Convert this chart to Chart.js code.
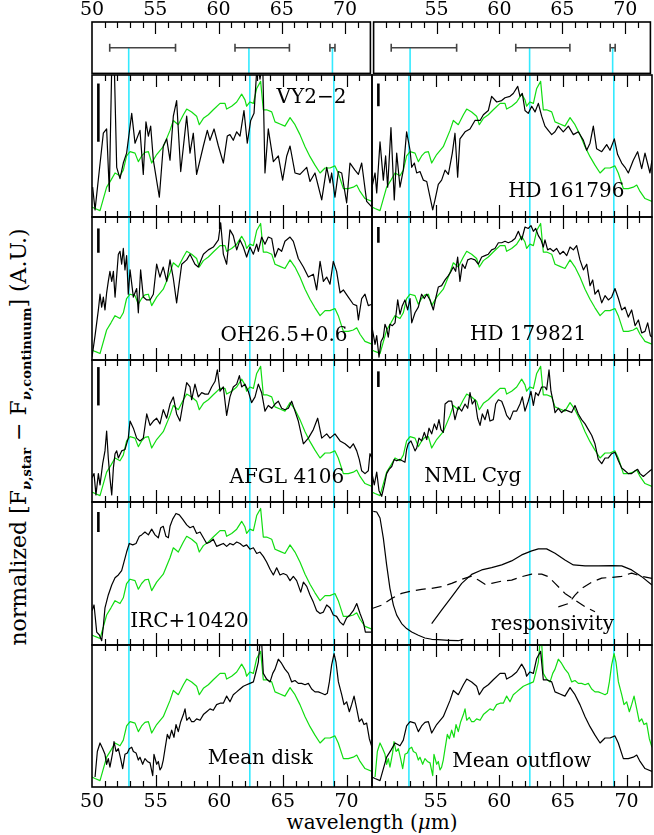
<!DOCTYPE html>
<html>
<head>
<meta charset="utf-8">
<script src="https://cdn.jsdelivr.net/npm/chart.js@4.4.1/dist/chart.umd.min.js"></script>
<style>
  body { margin: 0; background: #fff; width: 654px; height: 835px; overflow: hidden; position: relative; font-family: "DejaVu Serif", serif; }
  canvas { position: absolute; }
  #ylab { position: absolute; left: 20px; top: 437px; white-space: nowrap; font-size: 22px; transform: translate(-50%, -50%) rotate(-90deg); }
  #ylab sub { font-size: 13px; font-weight: bold; }
  #xlab { position: absolute; left: 372px; top: 822px; white-space: nowrap; font-size: 20px; transform: translate(-50%, -50%); }
</style>
</head>
<body>
<div id="ylab">normalized [F<sub><i>ν</i>,star</sub> − F<sub><i>ν</i>,continuum</sub>] (A.U.)</div>
<div id="xlab">wavelength (<i>μ</i>m)</div>
<script>
// wavelength in micron, values normalised to each panel (0 = bottom, 1 = top)
const tmplWl = [50.0,50.24,50.63,51.15,51.49,51.81,52.2,52.46,52.72,52.99,53.38,53.64,53.9,54.16,54.43,54.69,55.08,55.6,56.13,56.39,56.78,57.18,57.44,57.83,58.22,58.43,58.75,59.14,59.53,60.06,60.45,60.58,60.97,61.37,61.76,62.02,62.15,62.41,62.68,62.94,63.25,63.46,63.72,64.12,64.38,64.77,65.16,65.56,65.95,66.34,66.74,67.13,67.52,67.92,68.31,68.7,69.09,69.35,69.75,70.14,70.53,70.8,71.06,71.45,72.0];
const tmplV = [0.07,0.06,0.045,0.21,0.26,0.31,0.29,0.33,0.43,0.46,0.45,0.39,0.43,0.455,0.46,0.38,0.44,0.495,0.61,0.68,0.65,0.72,0.76,0.74,0.71,0.65,0.695,0.72,0.755,0.80,0.80,0.76,0.78,0.81,0.865,0.825,0.78,0.81,0.80,0.905,0.955,0.755,0.755,0.74,0.67,0.655,0.64,0.70,0.65,0.58,0.495,0.425,0.365,0.31,0.345,0.345,0.36,0.31,0.20,0.20,0.21,0.225,0.18,0.13,0.11];

const vy22Wl = [50.05,50.24,50.89,51.15,51.36,51.57,51.73,51.94,52.2,52.46,52.72,53.12,53.38,53.77,54.03,54.24,54.43,54.61,54.82,55.29,55.6,55.87,56.13,56.39,56.65,56.97,57.44,57.7,57.96,58.22,58.75,59.06,59.27,59.59,59.93,60.32,60.63,60.84,61.1,61.37,61.63,61.94,62.2,62.47,62.73,62.99,63.2,63.41,63.59,63.85,64.25,64.64,64.98,65.3,65.56,65.95,66.34,66.87,67.13,67.52,68.05,68.44,68.7,68.83,69.09,69.36,69.62,70.01,70.27,70.66,70.93,71.19,71.58,72.0];
const vy22V = [0.21,0.05,0.59,0.62,0.18,1.15,1.15,0.35,0.27,0.38,0.45,0.73,0.52,0.61,0.30,0.67,0.57,0.64,0.40,0.14,0.50,0.55,0.40,0.71,0.82,0.32,0.71,0.45,0.59,0.30,0.50,0.61,0.54,0.62,0.50,0.38,0.57,0.58,0.54,0.60,0.57,0.75,0.52,0.68,0.73,1.10,0.97,1.10,0.31,0.62,0.39,0.43,0.26,0.43,0.50,0.31,0.30,0.35,0.25,0.31,0.12,0.35,0.24,0.31,0.14,0.32,0.31,0.10,0.38,0.33,0.30,0.38,0.11,0.07];

const hd161796Wl = [50.0,50.24,50.37,50.63,50.89,51.07,51.23,51.49,51.75,51.94,52.2,52.46,52.72,52.99,53.12,53.33,53.51,53.77,54.03,54.3,54.56,54.77,54.95,55.21,55.47,55.74,56.0,56.31,56.52,56.73,56.91,57.31,57.7,58.09,58.49,58.75,59.14,59.4,59.8,60.19,60.45,60.84,61.1,61.45,61.63,61.81,62.02,62.28,62.55,62.81,63.07,63.33,63.59,63.85,64.12,64.38,64.64,65.03,65.43,65.82,66.21,66.61,66.87,67.13,67.39,67.65,68.05,68.44,68.7,69.04,69.3,69.62,69.88,70.14,70.53,70.87,71.19,71.45,71.84,72.0];
const hd161796V = [0.21,0.31,0.17,0.53,0.26,0.43,0.21,0.63,0.12,0.45,0.21,0.33,0.60,0.47,0.35,0.38,0.31,0.32,0.26,0.25,0.14,0.05,0.12,0.23,0.26,0.33,0.30,0.45,0.59,0.28,0.55,0.60,0.62,0.68,0.68,0.72,0.75,0.85,0.81,0.82,0.84,0.85,0.87,0.92,0.85,0.87,0.75,0.73,0.78,0.74,0.80,0.71,0.64,0.61,0.58,0.60,0.64,0.60,0.64,0.58,0.60,0.54,0.47,0.52,0.64,0.48,0.46,0.51,0.47,0.55,0.44,0.38,0.35,0.31,0.40,0.46,0.34,0.45,0.31,0.40];

const oh26Wl = [50.0,50.24,50.5,50.63,50.76,50.89,51.02,51.15,51.28,51.41,51.55,51.68,51.81,52.07,52.2,52.33,52.46,52.59,52.72,52.85,52.99,53.25,53.51,53.64,53.82,54.03,54.3,54.56,54.82,55.08,55.34,55.6,55.87,56.13,56.39,56.65,56.78,57.05,57.44,57.7,58.09,58.35,58.75,59.14,59.53,59.93,60.11,60.32,60.58,60.84,61.1,61.37,61.63,61.89,62.15,62.41,62.68,62.94,63.07,63.33,63.59,63.85,64.12,64.38,64.64,64.9,65.16,65.56,65.82,66.21,66.61,67.0,67.39,67.65,67.92,68.18,68.44,68.7,68.96,69.22,69.49,69.75,70.14,70.53,70.8,70.93,71.19,71.45,71.71,72.0];
const oh26V = [0.02,0.17,0.35,0.46,0.37,0.44,0.35,0.47,0.55,0.62,0.55,0.62,0.44,0.74,0.76,0.67,0.78,0.63,0.73,0.46,0.63,0.44,0.50,0.33,0.63,0.44,0.42,0.42,0.46,0.67,0.58,0.65,0.55,0.70,0.57,0.40,0.49,0.67,0.70,0.74,0.67,0.65,0.74,0.77,0.79,0.84,0.96,0.74,0.67,0.91,0.87,0.77,0.84,0.79,0.72,0.79,0.74,0.81,0.76,0.86,0.81,0.86,0.85,0.72,0.78,0.76,0.83,0.86,0.83,0.71,0.65,0.58,0.60,0.49,0.69,0.55,0.58,0.53,0.69,0.62,0.47,0.49,0.44,0.39,0.38,0.28,0.43,0.46,0.38,0.39];

const hd179821Wl = [50.0,50.24,50.37,50.55,50.71,50.89,51.02,51.15,51.28,51.41,51.6,51.81,52.02,52.2,52.38,52.59,52.8,52.99,53.12,53.38,53.64,53.9,54.11,54.3,54.56,54.82,55.0,55.21,55.47,55.74,56.0,56.21,56.39,56.57,56.73,56.91,57.1,57.31,57.52,57.78,58.09,58.35,58.62,58.88,59.14,59.4,59.66,59.93,60.19,60.45,60.71,60.97,61.24,61.5,61.76,62.02,62.28,62.49,62.68,62.86,63.07,63.28,63.46,63.59,63.8,63.99,64.25,64.51,64.77,65.03,65.3,65.56,65.82,66.08,66.34,66.61,66.87,67.13,67.34,67.52,67.78,68.05,68.31,68.57,68.83,69.09,69.36,69.62,69.88,70.14,70.4,70.67,70.93,71.19,71.45,71.66,71.87,72.0];
const hd179821V = [0.23,0.11,0.17,0.02,0.13,0.16,0.25,0.22,0.16,0.25,0.24,0.26,0.42,0.32,0.38,0.42,0.35,0.43,0.26,0.33,0.37,0.46,0.43,0.46,0.42,0.35,0.43,0.51,0.52,0.56,0.59,0.62,0.65,0.62,0.72,0.55,0.67,0.64,0.70,0.71,0.70,0.67,0.72,0.73,0.74,0.77,0.78,0.82,0.82,0.83,0.82,0.83,0.85,0.90,0.84,0.93,0.92,0.94,0.90,0.92,0.87,0.84,0.79,0.84,0.77,0.78,0.76,0.78,0.74,0.76,0.73,0.79,0.77,0.80,0.70,0.63,0.67,0.52,0.56,0.46,0.49,0.40,0.45,0.42,0.44,0.50,0.43,0.35,0.37,0.30,0.35,0.24,0.28,0.19,0.20,0.26,0.17,0.16];

const afglWl = [50.0,50.16,50.31,50.5,50.63,50.84,51.02,51.15,51.28,51.41,51.55,51.68,51.81,51.94,52.07,52.33,52.59,52.85,52.99,53.25,53.51,53.77,54.03,54.3,54.56,54.82,55.08,55.34,55.6,55.87,56.13,56.39,56.65,56.91,57.18,57.44,57.7,57.83,58.09,58.35,58.62,58.88,59.14,59.4,59.67,59.85,60.06,60.32,60.58,60.84,61.1,61.37,61.58,61.76,62.02,62.28,62.54,62.81,63.07,63.33,63.59,63.85,64.12,64.38,64.64,64.9,65.16,65.43,65.69,65.95,66.21,66.61,67.0,67.39,67.73,68.05,68.44,68.7,69.09,69.49,69.88,70.27,70.53,70.8,71.0,71.19,71.45,71.71,71.84,72.0];
const afglV = [0.17,0.20,0.05,0.20,0.12,0.27,0.36,0.50,0.31,0.17,0.05,0.24,0.34,0.36,0.31,0.36,0.37,0.45,0.57,0.52,0.45,0.43,0.45,0.62,0.54,0.57,0.59,0.55,0.65,0.59,0.69,0.74,0.62,0.57,0.71,0.84,0.81,0.72,0.83,0.74,0.77,0.76,0.76,0.81,0.85,0.93,0.78,0.81,0.61,0.74,0.81,0.83,0.89,0.81,0.83,0.78,0.70,0.74,0.83,0.77,0.64,0.68,0.66,0.69,0.71,0.66,0.65,0.66,0.71,0.64,0.57,0.41,0.45,0.51,0.59,0.45,0.48,0.45,0.48,0.43,0.41,0.38,0.41,0.36,0.30,0.22,0.20,0.22,0.34,0.31];

const nmlWl = [50.0,50.18,50.37,50.55,50.76,50.97,51.15,51.34,51.55,51.75,51.94,52.2,52.38,52.59,52.72,52.85,53.06,53.25,53.38,53.51,53.69,53.9,54.11,54.3,54.48,54.69,54.9,55.08,55.26,55.42,55.6,55.74,56.0,56.26,56.52,56.78,57.05,57.31,57.52,57.7,57.88,58.09,58.3,58.49,58.67,58.88,59.09,59.27,59.53,59.72,59.93,60.19,60.4,60.58,60.84,61.1,61.37,61.63,61.81,62.02,62.28,62.49,62.68,62.86,63.07,63.33,63.59,63.72,63.91,64.06,64.25,64.38,64.64,64.9,65.16,65.43,65.69,65.95,66.21,66.47,66.74,67.0,67.26,67.52,67.78,68.05,68.31,68.57,68.83,69.09,69.36,69.62,69.88,70.14,70.4,70.67,70.87,71.06,71.32,71.58,71.84,72.0];
const nmlV = [0.20,0.12,0.21,0.08,0.04,0.12,0.20,0.23,0.25,0.30,0.29,0.30,0.29,0.28,0.37,0.41,0.43,0.39,0.36,0.38,0.45,0.43,0.49,0.44,0.52,0.48,0.55,0.51,0.58,0.51,0.49,0.69,0.71,0.71,0.58,0.67,0.64,0.69,0.66,0.77,0.69,0.72,0.59,0.54,0.62,0.58,0.65,0.57,0.58,0.69,0.72,0.71,0.66,0.61,0.58,0.64,0.64,0.69,0.74,0.64,0.71,0.78,0.68,0.77,0.75,0.81,0.81,0.79,0.93,0.78,0.70,0.63,0.66,0.63,0.65,0.64,0.63,0.68,0.62,0.58,0.55,0.51,0.47,0.41,0.30,0.27,0.31,0.31,0.34,0.35,0.29,0.24,0.22,0.20,0.20,0.22,0.23,0.20,0.18,0.20,0.22,0.23];

const ircWl = [50.0,50.16,50.37,50.58,50.76,50.89,51.02,51.28,51.55,51.81,52.07,52.33,52.51,52.72,52.93,53.2,53.46,53.72,53.9,54.16,54.43,54.69,54.95,55.21,55.4,55.6,55.81,56.0,56.13,56.34,56.6,56.86,57.12,57.44,57.7,57.96,58.22,58.49,58.75,59.01,59.27,59.53,59.79,60.06,60.32,60.58,60.84,61.1,61.37,61.63,61.89,62.15,62.41,62.68,62.94,63.2,63.46,63.72,63.99,64.25,64.51,64.77,65.03,65.3,65.56,65.82,66.08,66.4,66.61,66.87,67.13,67.39,67.65,67.92,68.18,68.44,68.7,68.96,69.22,69.49,69.75,70.01,70.27,70.53,70.8,71.06,71.32,71.48,72.0];
const ircV = [0.24,0.28,0.09,0.07,0.03,0.13,0.26,0.35,0.42,0.47,0.49,0.52,0.58,0.65,0.71,0.70,0.71,0.76,0.77,0.79,0.77,0.81,0.77,0.75,0.82,0.83,0.76,0.75,0.83,0.88,0.92,0.91,0.88,0.84,0.82,0.83,0.78,0.79,0.75,0.71,0.72,0.74,0.69,0.70,0.71,0.69,0.71,0.70,0.72,0.71,0.69,0.70,0.67,0.68,0.64,0.65,0.62,0.58,0.53,0.49,0.54,0.49,0.50,0.49,0.45,0.48,0.45,0.37,0.44,0.41,0.35,0.30,0.24,0.22,0.23,0.28,0.26,0.21,0.20,0.16,0.14,0.19,0.21,0.24,0.29,0.22,0.16,0.09,0.09];

const diskWl = [50.24,50.42,50.63,50.84,51.02,51.15,51.28,51.41,51.62,51.73,51.89,52.07,52.25,52.41,52.59,52.78,52.93,53.12,53.25,53.46,53.64,53.77,53.98,54.16,54.35,54.56,54.77,54.87,55.08,55.21,55.34,55.47,55.6,55.74,55.92,56.08,56.26,56.44,56.6,56.78,56.97,57.18,57.31,57.44,57.65,57.83,58.01,58.22,58.49,58.75,59.01,59.27,59.53,59.79,60.06,60.32,60.58,60.84,61.1,61.37,61.63,61.89,62.15,62.41,62.68,62.88,63.07,63.2,63.33,63.46,63.72,63.99,64.2,64.38,64.64,64.9,65.16,65.43,65.69,65.95,66.21,66.47,66.74,67.0,67.26,67.52,67.78,68.05,68.31,68.49,68.65,68.83,69.02,69.17,69.36,69.62,69.8,70.01,70.22,70.4,70.59,70.8,71.0,71.19,71.37,71.58,71.79,72.0];
const diskV = [0.07,0.25,0.31,0.27,0.23,0.16,0.20,0.14,0.24,0.32,0.25,0.27,0.20,0.13,0.23,0.24,0.27,0.28,0.25,0.24,0.19,0.21,0.16,0.20,0.18,0.17,0.08,0.23,0.16,0.18,0.12,0.14,0.19,0.27,0.37,0.34,0.40,0.35,0.44,0.39,0.46,0.51,0.55,0.47,0.49,0.46,0.46,0.48,0.47,0.51,0.53,0.55,0.54,0.58,0.59,0.59,0.64,0.60,0.65,0.67,0.69,0.71,0.72,0.73,0.74,0.81,0.88,1.02,1.02,0.80,0.76,0.74,0.80,0.83,0.90,0.87,0.83,0.80,0.74,0.75,0.73,0.73,0.72,0.73,0.69,0.67,0.67,0.66,0.65,0.66,0.74,0.86,0.94,0.88,0.74,0.65,0.58,0.60,0.53,0.58,0.64,0.55,0.46,0.48,0.44,0.45,0.34,0.28];

// responsivity curves (solid A, solid B, dashed C, dashed D)
const respAWl = [50.1,50.37,50.63,50.89,51.15,51.41,51.68,51.94,52.33,52.72,53.12,53.64,54.16,54.69,55.21,55.99,56.78,57.18];
const respAV = [0.935,0.93,0.888,0.747,0.56,0.396,0.279,0.209,0.15,0.115,0.091,0.068,0.049,0.04,0.037,0.033,0.03,0.04];
const respBWl = [54.69,55.47,56.26,57.05,57.83,58.62,59.4,60.19,60.97,61.76,62.55,63.07,63.72,64.38,65.16,65.82,66.74,67.78,68.83,69.62,70.4,71.19,72.0];
const respBV = [0.15,0.244,0.337,0.431,0.494,0.525,0.541,0.56,0.588,0.63,0.658,0.672,0.672,0.642,0.595,0.56,0.553,0.553,0.555,0.553,0.525,0.478,0.419];
const respCWl = [50.0,50.76,51.55,52.33,53.12,53.9,54.69,55.47,56.26,57.05,57.83,58.36,58.88,59.4,60.19,60.97,61.76,62.55,63.33,63.85,64.38,65.16,65.95,66.74,67.52];
const respCV = [0.255,0.279,0.326,0.361,0.378,0.389,0.396,0.408,0.431,0.459,0.482,0.454,0.424,0.431,0.447,0.454,0.478,0.496,0.496,0.478,0.431,0.361,0.314,0.267,0.232];
const respDWl = [64.64,65.43,65.95,66.47,67.26,68.05,68.83,69.62,70.4,71.19,72.0];
const respDV = [0.267,0.29,0.349,0.396,0.439,0.468,0.473,0.48,0.503,0.48,0.466];

// feature positions and their widths (top strip)
const lineWl = [52.9, 62.4, 69.0];
const errLo = [51.4, 61.3, 68.8];
const errHi = [56.6, 65.6, 69.2];

const tickLabelsLeft = [50, 55, 60, 65, 70];
const tickLabelsRight = [55, 60, 65, 70];

const names = ['VY2−2', 'HD 161796', 'OH26.5+0.6', 'HD 179821', 'AFGL 4106', 'NML Cyg', 'IRC+10420', 'responsivity', 'Mean disk', 'Mean outflow'];
const scaleBars = [[0.53, 0.94], [0.78, 0.94], [0.75, 0.92], [0.82, 0.93], [0.68, 0.95], [0.81, 0.92], [0.79, 0.93], null, null, null];

const GREEN = '#11dd11', CYAN = '#33eaff';
const colX = [92, 372], colW = 280;
const rowTop = [22, 75, 217, 360, 502, 645], rowBot = [75, 217, 360, 502, 645, 787];

function pts(wl, v) { return wl.map((w, i) => ({ x: w, y: v[i] })); }

const deco = {
  id: 'deco',
  afterDraw(chart, args, o) {
    const { ctx, chartArea: a, scales: { x } } = chart;
    ctx.save();
    ctx.strokeStyle = '#000';
    ctx.lineWidth = 1.2;
    for (let t = 51; t <= 71; t++) {
      const px = Math.round(x.getPixelForValue(t)) + 0.5;
      const len = t % 5 === 0 ? 12 : 6;
      ctx.beginPath();
      ctx.moveTo(px, a.top); ctx.lineTo(px, a.top + len);
      if (o.bottomTicks) { ctx.moveTo(px, a.bottom); ctx.lineTo(px, a.bottom - len); }
      ctx.stroke();
    }
    ctx.lineWidth = 1.6;
    ctx.strokeRect(a.left, a.top, a.right - a.left, a.bottom - a.top);
    ctx.fillStyle = '#000';
    ctx.font = '19px "DejaVu Serif"';
    ctx.textAlign = 'center';
    ctx.textBaseline = 'middle';
    (o.topLabels || []).forEach(t => ctx.fillText(String(t), x.getPixelForValue(t), a.top - 12));
    (o.bottomLabels || []).forEach(t => ctx.fillText(String(t), x.getPixelForValue(t), a.bottom + 15));
    if (o.name) {
      ctx.font = '20px "DejaVu Serif"';
      ctx.textAlign = 'left';
      ctx.fillText(o.name, x.getPixelForValue(o.at[0]), chart.scales.y.getPixelForValue(o.at[1]));
    }
    ctx.restore();
  }
};

function makeChart(col, row, datasets, deco0) {
  const pad = 4;
  const padLeft = col === 0 ? 24 : pad;
  const padTop = row === 0 ? rowTop[0] : pad;
  const padBottom = row === 5 ? 835 - rowBot[5] : pad;
  const c = document.createElement('canvas');
  const w = colW + padLeft + pad, h = rowBot[row] - rowTop[row] + padTop + padBottom;
  c.width = w; c.height = h;
  c.style.left = (colX[col] - padLeft) + 'px';
  c.style.top = (rowTop[row] - padTop) + 'px';
  c.style.width = w + 'px'; c.style.height = h + 'px';
  document.body.appendChild(c);
  return new Chart(c, {
    type: 'line',
    data: { datasets },
    options: {
      responsive: false, animation: false, devicePixelRatio: 1,
      layout: { padding: { left: padLeft, right: pad, top: padTop, bottom: padBottom } },
      elements: { point: { radius: 0 }, line: { tension: 0, borderJoinStyle: 'round' } },
      scales: {
        x: { type: 'linear', min: 50, max: 72, display: false },
        y: { type: 'linear', min: 0, max: 1, display: false }
      },
      plugins: { legend: { display: false }, tooltip: { enabled: false }, deco: deco0 }
    },
    plugins: [deco]
  });
}

function cyanSet(yTop) {
  const d = [];
  lineWl.forEach(l => { d.push({ x: l, y: 0 }, { x: l, y: yTop }, { x: l, y: null }); });
  return { data: d, borderColor: CYAN, borderWidth: 1.6, order: 5 };
}

// top strips: feature widths
[0, 1].forEach(col => {
  const e = [];
  errLo.forEach((lo, i) => { e.push({ x: lo, y: 0.5 }, { x: errHi[i], y: 0.5 }, { x: errHi[i], y: null }); });
  makeChart(col, 0, [
    { data: e, borderColor: '#444', borderWidth: 1.6, pointStyle: 'line', pointRotation: 90,
      pointRadius: c => (c.raw && c.raw.y !== null ? 4 : 0), pointBorderColor: '#444', pointBorderWidth: 1.6, order: 1 },
    cyanSet(0.5)
  ], { bottomTicks: false, topLabels: col === 0 ? tickLabelsLeft : tickLabelsRight });
});

const series = [
  [vy22Wl, vy22V, tmplWl, tmplV], [hd161796Wl, hd161796V, tmplWl, tmplV],
  [oh26Wl, oh26V, tmplWl, tmplV], [hd179821Wl, hd179821V, tmplWl, tmplV],
  [afglWl, afglV, tmplWl, tmplV], [nmlWl, nmlV, tmplWl, tmplV],
  [ircWl, ircV, tmplWl, tmplV], null,
  [diskWl, diskV, tmplWl, tmplV], [tmplWl, tmplV, diskWl, diskV]
];
const nameAt = [[64.5, 0.84], [60.7, 0.18], [60.1, 0.17], [57.7, 0.175], [60.8, 0.17], [54.1, 0.176], [53.0, 0.16], [59.35, 0.14], [59.1, 0.2], [56.3, 0.176]];

names.forEach((nm, i) => {
  const col = i % 2, row = 1 + Math.floor(i / 2);
  const ds = [cyanSet(1)];
  const s = series[i];
  if (s) {
    ds.push({ data: pts(s[2], s[3]), borderColor: GREEN, borderWidth: 1.2, order: 3 });
    ds.push({ data: pts(s[0], s[1]), borderColor: '#000', borderWidth: 1.2, order: 2 });
  } else {
    ds.push({ data: pts(respAWl, respAV), borderColor: '#000', borderWidth: 1.2, order: 2 });
    ds.push({ data: pts(respBWl, respBV), borderColor: '#000', borderWidth: 1.2, order: 2 });
    ds.push({ data: pts(respCWl, respCV), borderColor: '#000', borderWidth: 1.2, borderDash: [10, 6], order: 2 });
    ds.push({ data: pts(respDWl, respDV), borderColor: '#000', borderWidth: 1.2, borderDash: [10, 6], order: 2 });
  }
  if (scaleBars[i]) {
    ds.push({ data: [{ x: 50.5, y: scaleBars[i][0] }, { x: 50.5, y: scaleBars[i][1] }], borderColor: '#000', borderWidth: 2.6, borderCapStyle: 'butt', order: 1 });
  }
  makeChart(col, row, ds, {
    bottomTicks: true, name: nm, at: nameAt[i],
    bottomLabels: row === 5 ? (col === 0 ? tickLabelsLeft : tickLabelsRight) : null
  });
});
</script>
</body>
</html>
